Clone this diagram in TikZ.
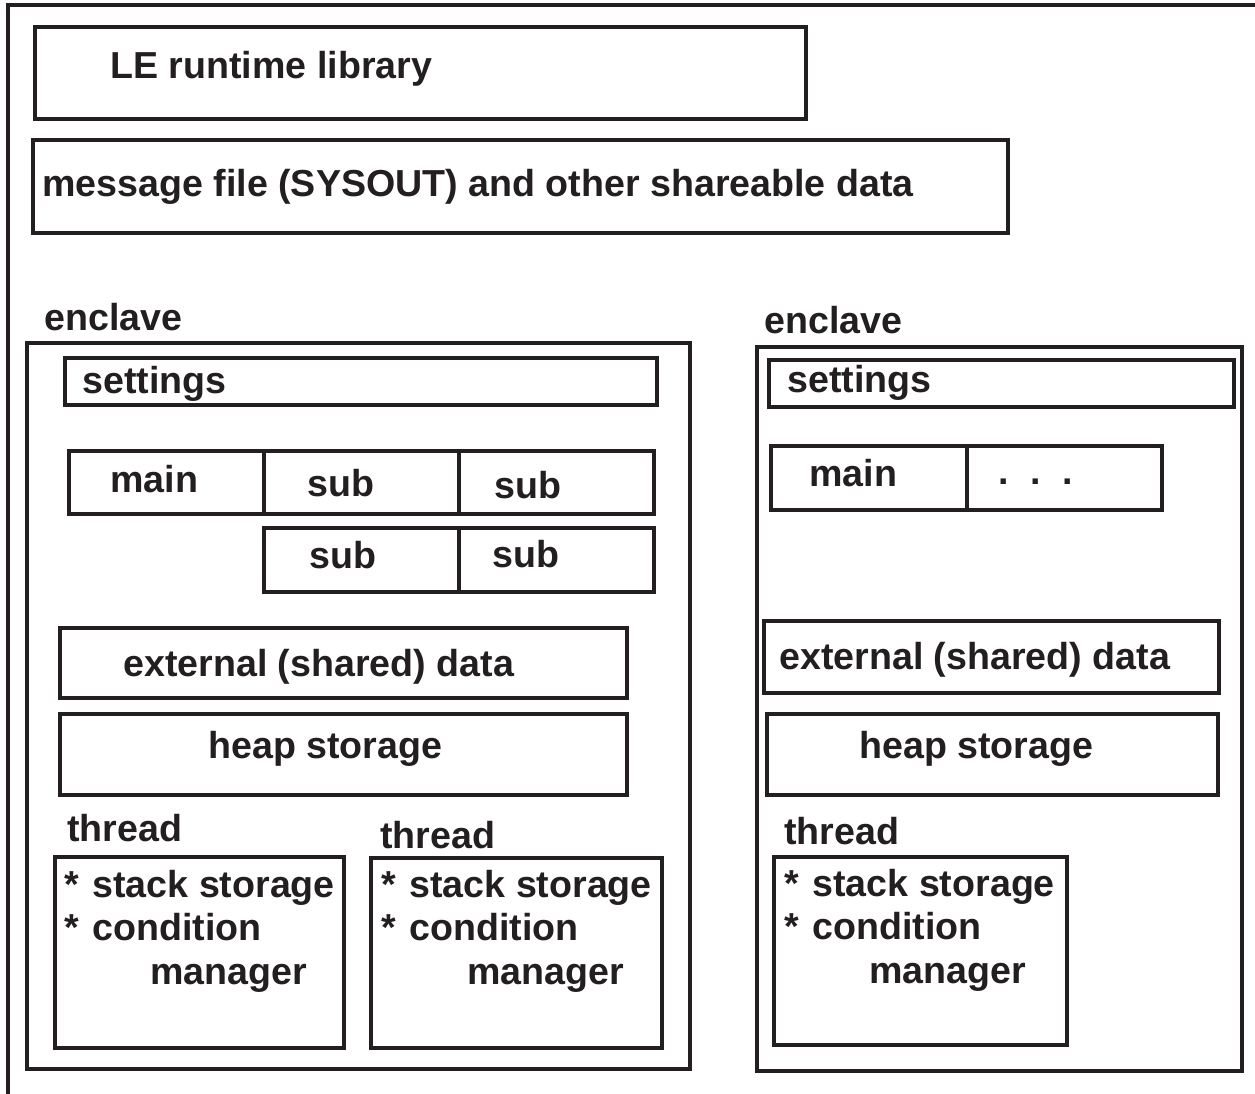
\documentclass[tikz,border=0pt]{standalone}
\usepackage{fontspec}
\setmainfont{Liberation Sans}
\definecolor{ink}{HTML}{231F20}

\begin{document}
\begin{tikzpicture}[x=0.02cm, y=-0.02cm,
  box/.style={draw=ink, line width=1.9pt},
  txt/.style={anchor=base west, inner sep=0pt, text=ink, font=\fontsize{21.4}{25}\selectfont\bfseries}]
\useasboundingbox (0,0) rectangle (1255,1094);
\draw[box] (8,1094) -- (8,5) -- (1255,5);

\draw[box] (35,27) rectangle (806,119);
\node[txt] (lib) at (110,79) {LE runtime library};
\draw[box] (33,140) rectangle (1008,233);
\node[txt] (msg) at (42,197) {message file (SYSOUT) and other shareable data};

% left enclave
\node[txt] (enclA) at (44,331) {enclave};
\draw[box] (27,343) rectangle (690,1069);
\draw[box] (65,358) rectangle (657,405);
\node[txt] (setA) at (82,394) {settings};
\draw[box] (69,451) rectangle (264,514);
\draw[box] (264,451) rectangle (459,514);
\draw[box] (459,451) rectangle (654,514);
\draw[box] (264,528) rectangle (459,592);
\draw[box] (459,528) rectangle (654,592);
\node[txt] (mainA) at (110,493) {main};
\node[txt] (subA) at (307,497) {sub};
\node[txt] (subB) at (494,499) {sub};
\node[txt] (subC) at (309,569) {sub};
\node[txt] (subD) at (492,568) {sub};
\draw[box] (60,628) rectangle (627,698);
\node[txt] (extA) at (123,677) {external (shared) data};
\draw[box] (60,714) rectangle (627,795);
\node[txt] (heapA) at (208,759) {heap storage};

\node[txt] (thrA) at (67,841) {thread};
\draw[box] (55,857) rectangle (344,1048);
\node[txt] (stkA) at (64,897) {*\hspace{0.36em}stack storage};
\node[txt] (cndA) at (64,940) {*\hspace{0.36em}condition};
\node[txt] (mgrA) at (150,984) {manager};
\node[txt] (thrB) at (380,848) {thread};
\draw[box] (371,858) rectangle (662,1048);
\node[txt] (stkB) at (381,897) {*\hspace{0.36em}stack storage};
\node[txt] (cndB) at (381,940) {*\hspace{0.36em}condition};
\node[txt] (mgrB) at (467,984) {manager};

% right enclave
\node[txt] (enclB) at (764,334) {enclave};
\draw[box] (757,347) rectangle (1242,1071);
\draw[box] (769,360) rectangle (1234,407);
\node[txt] (setB) at (787,393) {settings};
\draw[box] (771,446) rectangle (967,510);
\draw[box] (967,446) rectangle (1162,510);
\node[txt] (mainB) at (809,487) {main};
\node[txt] (dotsB) at (998,485) {.\hspace{0.57em}.\hspace{0.57em}.};
\draw[box] (764,621) rectangle (1219,693);
\node[txt] (extB) at (779,670) {external (shared) data};
\draw[box] (767,714) rectangle (1218,795);
\node[txt] (heapB) at (859,759) {heap storage};

\node[txt] (thrC) at (784,845) {thread};
\draw[box] (774,857) rectangle (1067,1045);
\node[txt] (stkC) at (784,896) {*\hspace{0.36em}stack storage};
\node[txt] (cndC) at (784,939) {*\hspace{0.36em}condition};
\node[txt] (mgrC) at (869,983) {manager};
\end{tikzpicture}
\end{document}
